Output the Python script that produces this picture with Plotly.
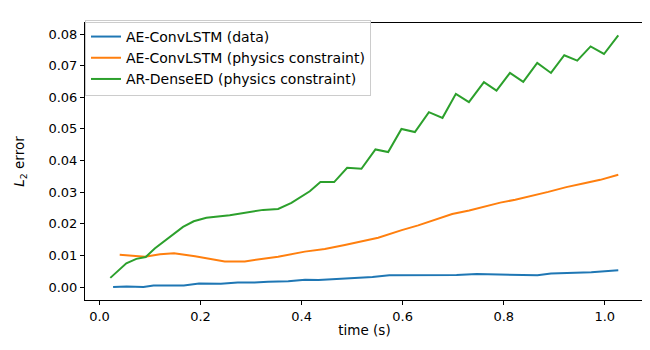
import plotly.graph_objects as go

# AE-ConvLSTM (data)
t_data = [0.0269, 0.0537, 0.0869, 0.1069, 0.1669, 0.1970, 0.2402, 0.2735, 0.3069,
          0.3335, 0.3735, 0.4069, 0.4335, 0.4735, 0.5067, 0.5402, 0.5735, 0.6402,
          0.7067, 0.7467, 0.7935, 0.8667, 0.8935, 0.9733, 1.0267]
err_data = [0.0000, 0.0002, 0.0000, 0.0005, 0.0005, 0.0011, 0.0010, 0.0014, 0.0014,
            0.0017, 0.0018, 0.0023, 0.0022, 0.0026, 0.0027, 0.0032, 0.0037, 0.0037,
            0.0038, 0.0041, 0.0039, 0.0037, 0.0043, 0.0047, 0.0053]

# AE-ConvLSTM (physics constraint)
t_phys = [0.0400, 0.0901, 0.1198, 0.1475, 0.1891, 0.2479, 0.2875, 0.3535, 0.4063,
          0.4459, 0.4855, 0.5251, 0.5515, 0.5982, 0.6307, 0.6980, 0.7317, 0.7931,
          0.8228, 0.8881, 0.9238, 0.9594, 0.9911, 1.0267]
err_phys = [0.0102, 0.0096, 0.0104, 0.0107, 0.0097, 0.0081, 0.0081, 0.0096, 0.0112,
            0.0120, 0.0133, 0.0147, 0.0156, 0.0180, 0.0195, 0.0231, 0.0242, 0.0267,
            0.0276, 0.0301, 0.0316, 0.0328, 0.0339, 0.0355]

# AR-DenseED (physics constraint)
t_ar = [0.0214, 0.0531, 0.0729, 0.0915, 0.1093, 0.1390, 0.1653, 0.1865, 0.2115,
        0.2578, 0.3026, 0.3238, 0.3535, 0.3798, 0.4162, 0.4372, 0.4644, 0.4901,
        0.5184, 0.5461, 0.5713, 0.5976, 0.6242, 0.6519, 0.6788, 0.7053, 0.7311,
        0.7608, 0.7857, 0.8123, 0.8386, 0.8663, 0.8935, 0.9198, 0.9455, 0.9719,
        0.9984, 1.0267]
err_ar = [0.0029, 0.0075, 0.0089, 0.0095, 0.0122, 0.0158, 0.0190, 0.0208, 0.0219,
          0.0227, 0.0238, 0.0244, 0.0247, 0.0266, 0.0303, 0.0332, 0.0332, 0.0377,
          0.0374, 0.0435, 0.0427, 0.0500, 0.0490, 0.0553, 0.0535, 0.0611, 0.0585,
          0.0648, 0.0621, 0.0677, 0.0649, 0.0709, 0.0677, 0.0733, 0.0716, 0.0761,
          0.0737, 0.0796]

fig = go.Figure()
fig.add_trace(go.Scatter(x=t_data, y=err_data, mode="lines", name="AE-ConvLSTM (data)",
                         line=dict(color="#1f77b4", width=2)))
fig.add_trace(go.Scatter(x=t_phys, y=err_phys, mode="lines", name="AE-ConvLSTM (physics constraint)",
                         line=dict(color="#ff7f0e", width=2)))
fig.add_trace(go.Scatter(x=t_ar, y=err_ar, mode="lines", name="AR-DenseED (physics constraint)",
                         line=dict(color="#2ca02c", width=2)))

axis_style = dict(showline=True, linecolor="black", linewidth=1, mirror=True,
                  ticks="outside", ticklen=4, tickwidth=1, tickcolor="black",
                  showgrid=False, zeroline=False,
                  tickfont=dict(family="DejaVu Sans", size=13, color="black"))

fig.update_layout(
    width=650, height=350,
    margin=dict(l=77, r=14, t=15, b=58),
    plot_bgcolor="white", paper_bgcolor="white",
    font=dict(family="DejaVu Sans", size=13, color="black"),
    xaxis=dict(range=[-0.0287, 1.0776], dtick=0.2, tickformat=".1f",
               title=dict(text="time (s)", standoff=2,
                          font=dict(family="DejaVu Sans", size=13.5, color="black")),
               **axis_style),
    yaxis=dict(range=[-0.0041, 0.0835], dtick=0.01, tickformat=".2f",
               title=dict(text="<i>L</i><sub>2</sub> error", standoff=20,
                          font=dict(family="DejaVu Sans", size=13.5, color="black")),
               **axis_style),
    legend=dict(x=0.0, y=1.011, xanchor="left", yanchor="top",
                bgcolor="rgba(255,255,255,0.8)", bordercolor="#cccccc", borderwidth=1,
                font=dict(family="DejaVu Sans", size=14), itemwidth=30),
)

fig.write_html("out.html")
